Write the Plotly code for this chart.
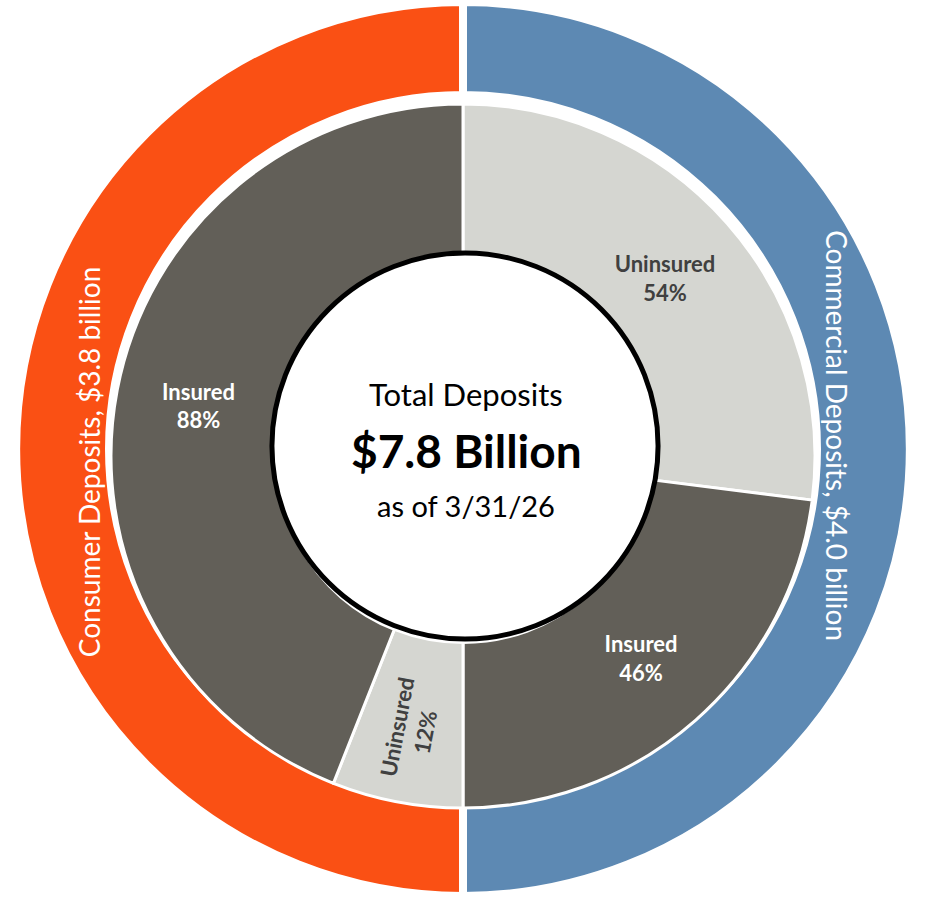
import math
import plotly.graph_objects as go

W, H = 941, 897

# ---- data ----
segments = ["Commercial Deposits", "Consumer Deposits"]
segment_billions = [4.0, 3.8]
segment_colors = ["#5D89B3", "#FA5014"]

inner_segment = ["Commercial", "Commercial", "Consumer", "Consumer"]
inner_labels = ["Uninsured", "Insured", "Uninsured", "Insured"]
inner_pct = [54, 46, 12, 88]
inner_colors = ["#D5D6D1", "#625F58", "#D5D6D1", "#625F58"]
inner_text_colors = ["#404040", "#FFFFFF", "#404040", "#FFFFFF"]

total_billions = 7.8
as_of = "3/31/26"

# each half of the outer ring is the sum of its inner shares (100% each)
outer_values = [sum(p for s, p in zip(inner_segment, inner_pct) if seg.startswith(s))
                for seg in segments]
outer_text = [f"{seg}, ${b:.1f} billion" for seg, b in zip(segments, segment_billions)]
inner_text = [f"<b>{l}<br>{p}%</b>" for l, p in zip(inner_labels, inner_pct)]

# ---- geometry (pixels, from top-left) ----
OCX, OCY, OR, OHOLE = 463, 449, 447, 354
ICX, ICY, IR = 463, 456, 352
CCX, CCY, CR = 465, 446, 193


def dom(cx, cy, r):
    return dict(x=[(cx - r) / W, (cx + r) / W], y=[(H - cy - r) / H, (H - cy + r) / H])


FONT = "Lato"

fig = go.Figure()

# outer ring
fig.add_trace(go.Pie(
    values=outer_values, labels=segments, text=outer_text,
    textinfo="none", sort=False, direction="clockwise", rotation=0,
    hole=OHOLE / OR, domain=dom(OCX, OCY, OR),
    marker=dict(colors=segment_colors, line=dict(color="white", width=8)),
    showlegend=False, hoverinfo="text",
))

# inner ring
fig.add_trace(go.Pie(
    values=inner_pct, labels=[f"{s} {l}" for s, l in zip(inner_segment, inner_labels)],
    text=inner_text, textinfo="text", sort=False, direction="clockwise", rotation=0,
    hole=0.53, domain=dom(ICX, ICY, IR),
    marker=dict(colors=inner_colors, line=dict(color="white", width=3)),
    textposition="inside", insidetextorientation="auto",
    textfont=dict(family=FONT, size=22, color=inner_text_colors),
    showlegend=False, hoverinfo="label+value",
))

# centre disc
fig.add_trace(go.Pie(
    values=[total_billions], labels=["Total Deposits"], textinfo="none",
    sort=False, domain=dom(CCX, CCY, CR),
    marker=dict(colors=["white"], line=dict(color="black", width=5)),
    showlegend=False, hoverinfo="label+value",
))

# ring labels, set along the middle of each half
ring_label_angle = [88, 268]      # degrees clockwise from 12 o'clock
ring_label_rot = [90, -90]
RL = 374
for txt, ang, rot in zip(outer_text, ring_label_angle, ring_label_rot):
    a = math.radians(ang)
    px = OCX + RL * math.sin(a)
    py = OCY - RL * math.cos(a)
    fig.add_annotation(x=px / W, y=1 - py / H, xref="paper", yref="paper",
                       text=txt, textangle=rot, showarrow=False,
                       xanchor="center", yanchor="middle",
                       font=dict(family=FONT, size=28, color="white"))

fig.add_annotation(x=466 / W, y=1 - 394 / H, xref="paper", yref="paper",
                   text="Total Deposits", showarrow=False,
                   font=dict(family=FONT, size=31, color="black"))
fig.add_annotation(x=466 / W, y=1 - 451 / H, xref="paper", yref="paper",
                   text=f"<b>${total_billions:.1f} Billion</b>", showarrow=False,
                   font=dict(family=FONT, size=46, color="black"))
fig.add_annotation(x=466 / W, y=1 - 505 / H, xref="paper", yref="paper",
                   text=f"as of {as_of}", showarrow=False,
                   font=dict(family=FONT, size=29, color="black"))

fig.update_layout(width=W, height=H, margin=dict(l=0, r=0, t=0, b=0),
                  paper_bgcolor="white", plot_bgcolor="white")

fig.write_html("out.html", config={"displayModeBar": False},
               post_script="document.body.style.margin='0';")
